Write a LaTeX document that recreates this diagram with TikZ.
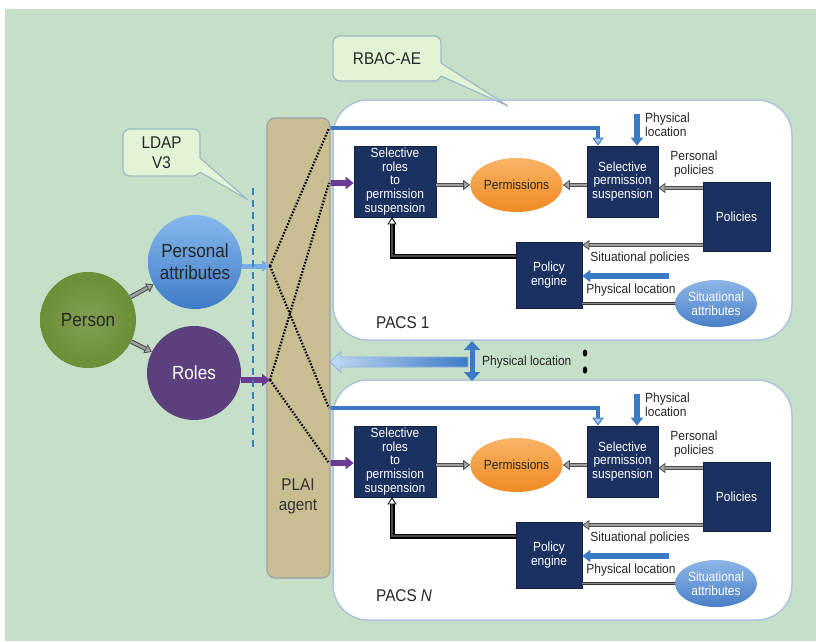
\documentclass[tikz,border=0pt]{standalone}
\usepackage{fontspec}
\setmainfont{Liberation Sans}[FakeStretch=0.9]
\usetikzlibrary{arrows.meta,shapes.geometric,calc}
\definecolor{bg}{HTML}{C6DFC9}
\definecolor{callfill}{HTML}{E3F3D6}
\definecolor{callline}{HTML}{9DB9C9}
\definecolor{plaitan}{HTML}{C9BD92}
\definecolor{plailine}{HTML}{9DA0AC}
\definecolor{navy}{HTML}{1B3160}
\definecolor{pacsline}{HTML}{AFC3DD}
\definecolor{arrblue}{HTML}{3B7BC6}
\definecolor{lightblue}{HTML}{A9C8EC}
\definecolor{purp}{HTML}{6B3A96}
\definecolor{persgreen}{HTML}{6B8E35}
\definecolor{rolepurp}{HTML}{5C3F7D}
\definecolor{attrL}{HTML}{86B8EC}
\definecolor{attrD}{HTML}{3E7BC8}
\definecolor{orngL}{HTML}{F9B466}
\definecolor{orngD}{HTML}{EF8A22}
\definecolor{sitL}{HTML}{8DB6E6}
\definecolor{sitD}{HTML}{4A7FC8}
\newcommand\fsmall{\fontsize{13.3}{13.6}\selectfont}
\newcommand\fbig{\fontsize{19}{22}\selectfont}
\newcommand\fmid{\fontsize{17}{20}\selectfont}
\begin{document}
\begin{tikzpicture}[x=1pt,y=-1pt,
  navybox/.style={rectangle, draw=navy!70!black, line width=0.6pt, fill=navy, text=white, align=center, font=\fsmall, inner sep=0pt},
  permell/.style={ellipse, minimum width=81pt, minimum height=54pt, inner sep=0pt, top color=orngL, bottom color=orngD, font=\fsmall, text=black!85},
  sitell/.style={ellipse, minimum width=82pt, minimum height=47pt, inner sep=0pt, top color=sitL, bottom color=sitD, font=\fsmall, text=white, align=center},
  pacsbox/.style={rectangle, rounded corners=35pt, fill=white, draw=pacsline, line width=1.5pt, minimum width=459pt, minimum height=240pt},
  lbl/.style={font=\fsmall, text=black!85, inner sep=0pt, align=center},
  pacslbl/.style={font=\fmid, text=black!85, inner sep=0pt},
  grayarr/.style={draw=black!70, double=black!38, double distance=2.6pt, line width=1pt, -{Triangle[length=7pt,width=10pt,fill=black!35,line width=0.8pt]}},
  grayline/.style={draw=black!80, double=black!45, double distance=1.3pt, line width=0.9pt},
  blackarr/.style={draw=black, double=black!70, double distance=1.4pt, line width=1.8pt, -{Triangle[length=7pt,width=9pt,fill=white,line width=0.8pt]}},
  bluearr/.style={draw=arrblue, line width=5.5pt, -{Triangle[length=8pt,width=12pt]}},
  bluetop/.style={draw=arrblue, line width=4.5pt, -{Triangle[length=8pt,width=11pt,fill=lightblue,line width=1pt]}},
  attrarr/.style={draw=attrL!80!arrblue, line width=5pt, -{Triangle[length=8pt,width=11pt]}},
  purparr/.style={draw=purp, line width=5.5pt, -{Triangle[length=8pt,width=12pt]}},
  bluedbl/.style={draw=arrblue, line width=5pt, {Triangle[length=9pt,width=16pt]}-{Triangle[length=9pt,width=16pt]}},
  dotln/.style={draw=black, line width=2.2pt, dash pattern=on 1.6pt off 1.6pt},
  dashln/.style={draw=arrblue, line width=1.6pt, dash pattern=on 7pt off 5pt},
  circ/.style={circle, inner sep=0pt, align=center, font=\fbig},
  callbox/.style={rectangle, rounded corners=7pt, fill=callfill, draw=callline, line width=1.2pt, font=\fmid, text=black!85, align=center},
  plaibox/.style={rectangle, rounded corners=8pt, fill=plaitan, draw=plailine, line width=1.2pt, minimum width=63pt, minimum height=460pt}
]
\useasboundingbox (0,0) rectangle (816,641);
\fill[white] (0,0) rectangle (816,641);
\fill[bg] (5,9) rectangle (816,641);

% PACS boxes
\foreach \s/\dy/\ly/\lab in {a/0/323/{PACS 1}, b/280/316/{PACS \textit{N}}}{
\begin{scope}[shift={(0,\dy)}]
  \node[pacsbox] (pacs\s) at (562.5,220) {};
  \node[navybox, minimum width=82pt, minimum height=71pt] (srr\s) at (395,181.5) {Selective\\roles\\to\\permission\\suspension};
  \node[navybox, minimum width=71pt, minimum height=71pt] (sps\s) at (622.5,181.5) {Selective\\permission\\suspension};
  \node[navybox, minimum width=67pt, minimum height=69pt] (pol\s) at (736.5,216.5) {Policies};
  \node[navybox, minimum width=66pt, minimum height=66pt] (pe\s) at (549,275) {Policy\\engine};
  \node[permell] (perm\s) at (516.5,185) {Permissions};
  \node[sitell] (sit\s) at (716,303.5) {Situational\\attributes};
  \node[lbl, anchor=west, align=left] (lpl\s) at (645,125) {Physical\\location};
  \node[lbl] (lpp\s) at (694,164) {Personal\\policies};
  \node[lbl] (lsp\s) at (640,258) {Situational policies};
  \node[lbl] (lpm\s) at (631,290) {Physical location};
  \node[pacslbl, anchor=west] (plab\s) at (376,\ly) {\lab};
  \coordinate (pl\s) at (637,114);
  \coordinate (bs\s) at (329,128);
  \coordinate (pu\s) at (329,183);
  \coordinate (bp\s) at (669,276);
  \coordinate (pa\s) at ([yshift=28.5pt]pol\s.west);
  \coordinate (pb\s) at ([yshift=-28.5pt]pol\s.west);
  \draw[bluearr] (pl\s) -- (pl\s |- sps\s.north);
  \draw[bluetop] (bs\s) -| ([xshift=-24.5pt]sps\s.north);
  \draw[purparr] (pu\s) -- (pu\s -| srr\s.west);
  \draw[grayarr] (srr\s.east |- perm\s) -- (perm\s);
  \draw[grayarr] (sps\s.west |- perm\s) -- (perm\s);
  \draw[grayarr] (pa\s) -- (pa\s -| sps\s.east);
  \draw[grayarr] (pb\s) -- (pb\s -| pe\s.east);
  \draw[bluearr] (bp\s) -- (bp\s -| pe\s.east);
  \draw[grayline] (sit\s) -- (sit\s -| pe\s.east);
  \draw[blackarr] ([yshift=19pt]pe\s.west) -| ([xshift=-3pt]srr\s.south);
\end{scope}
}

% PLAI agent
\node[plaibox] (plai) at (298.5,348) {};
\node[font=\fmid, text=black!80, align=center] (plaitxt) at (298,496) {PLAI\\agent};

% left circles
\node[circ, minimum size=96pt, shading=radial, inner color=persgreen!85!white, outer color=persgreen, text=black!85] (person) at (88,320) {Person};
\node[circ, minimum size=94pt, top color=attrL, bottom color=attrD, text=black!85] (attr) at (195,262) {Personal\\attributes};
\node[circ, minimum size=94pt, fill=rolepurp, text=white] (roles) at (194,373) {Roles};
\coordinate (pa) at (270,266);
\coordinate (pr) at (270,380);
\draw[attrarr] (pa -| attr.east) -- (pa);
\draw[purparr] (pr -| roles.east) -- (pr);
\draw[grayarr] (person) -- (attr);
\draw[grayarr] (person) -- (roles);

% dotted crossing lines
\draw[dotln] (pa) -- (bsa);
\draw[dotln] (pa) -- (bsb);
\draw[dotln] (pr) -- (pua);
\draw[dotln] (pr) -- (pub);

% LDAP dashed line
\coordinate (dt) at (253,188);
\coordinate (db) at (253,450);
\draw[dashln] (dt) -- (db);

% callouts
\node[callbox, minimum width=108pt, minimum height=45pt] (rbac) at (387,58.5) {RBAC-AE};
\fill[callfill] (438,63) -- (441,63) -- (508,106) -- (441,76) -- (438,76) -- cycle;
\draw[callline, line width=1.2pt] (441,63) -- (508,106) -- (441,76);
\node[callbox, minimum width=77pt, minimum height=47pt] (ldap) at (161.5,152.5) {LDAP\\V3};
\fill[callfill] (197,158) -- (200,158) -- (248,200) -- (200,172) -- (197,172) -- cycle;
\draw[callline, line width=1.2pt] (200,158) -- (248,200) -- (200,172);

% middle physical location arrows
\coordinate (va) at (472,341);
\coordinate (vb) at (472,381);
\shade[left color=lightblue!70!white, right color=arrblue, draw=arrblue!60, line width=0.6pt]
  (468,357) -- (341,357) -- (341,351.5) -- (330,362) -- (341,372.5) -- (341,367) -- (468,367) -- cycle;
\draw[bluedbl] (va) -- (vb);
\node[lbl, anchor=west] (midlbl) at (482,362) {Physical location};
\fill[black] (585,353) ellipse (2.2 and 3.6);
\fill[black] (585,370) ellipse (2.2 and 3.6);
\end{tikzpicture}
\end{document}
